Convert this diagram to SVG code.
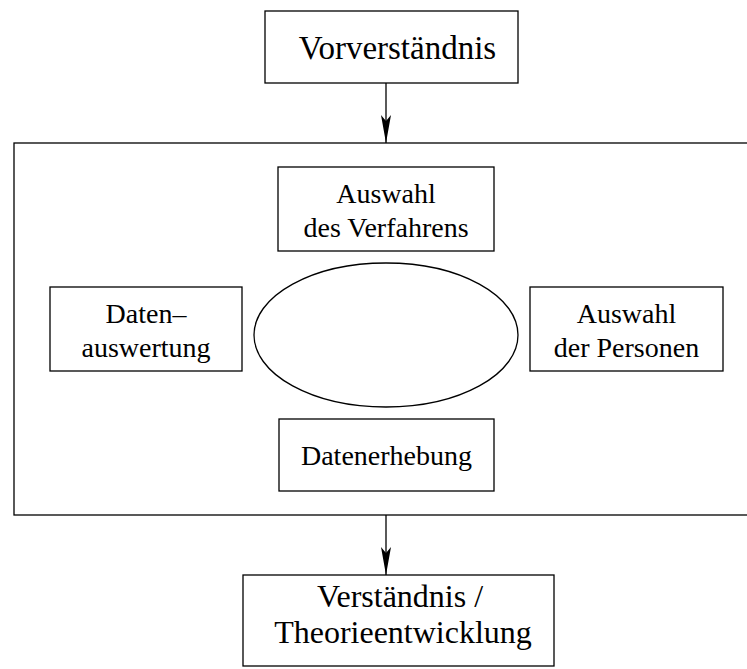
<svg xmlns="http://www.w3.org/2000/svg" width="747" height="669" viewBox="0 0 747 669">
  <style>
    .box { fill: none; stroke: #000; stroke-width: 1.3; }
    .lbl { font-family: "Liberation Serif", "Times New Roman", serif; fill: #000; text-anchor: middle; }
    .edge { stroke: #000; stroke-width: 1.3; fill: none; }
  </style>
  <defs>
    <marker id="arrow" viewBox="0 0 28 10" refX="28" refY="5" markerWidth="28" markerHeight="10" markerUnits="userSpaceOnUse" orient="auto">
      <path d="M0,0 L28,5 L0,10 L6,5 Z" fill="#000"/>
    </marker>
  </defs>
  <rect width="747" height="669" fill="#fff"/>

  <g id="vorverstaendnis">
    <rect class="box" x="265" y="11" width="253" height="72"/>
    <text class="lbl" x="397.5" y="59" font-size="33">Vorverständnis</text>
  </g>

  <g id="forschungsprozess">
    <rect class="box" x="14" y="143" width="760" height="372"/>
    <ellipse class="box" cx="386" cy="335" rx="132" ry="72"/>
  </g>

  <g id="auswahl-verfahren">
    <rect class="box" x="278" y="167" width="216" height="84"/>
    <text class="lbl" x="386" y="203" font-size="28">Auswahl</text>
    <text class="lbl" x="386" y="237" font-size="28">des Verfahrens</text>
  </g>

  <g id="datenauswertung">
    <rect class="box" x="50" y="287" width="192" height="84"/>
    <text class="lbl" x="146" y="323" font-size="28">Daten–</text>
    <text class="lbl" x="146" y="357" font-size="28">auswertung</text>
  </g>

  <g id="auswahl-personen">
    <rect class="box" x="530" y="287" width="193" height="84"/>
    <text class="lbl" x="626.5" y="323" font-size="28">Auswahl</text>
    <text class="lbl" x="626.5" y="357" font-size="28">der Personen</text>
  </g>

  <g id="datenerhebung">
    <rect class="box" x="279" y="419" width="215" height="72"/>
    <text class="lbl" x="386.5" y="465" font-size="28">Datenerhebung</text>
  </g>

  <g id="verstaendnis">
    <rect class="box" x="243" y="575" width="311" height="91"/>
    <text class="lbl" x="400" y="607" font-size="32">Verständnis /</text>
    <text class="lbl" x="403" y="643" font-size="32">Theorieentwicklung</text>
  </g>

  <g id="connectors">
    <line class="edge" x1="386" y1="83" x2="386" y2="143" marker-end="url(#arrow)"/>
    <line class="edge" x1="386" y1="515" x2="386" y2="575" marker-end="url(#arrow)"/>
  </g>
</svg>
